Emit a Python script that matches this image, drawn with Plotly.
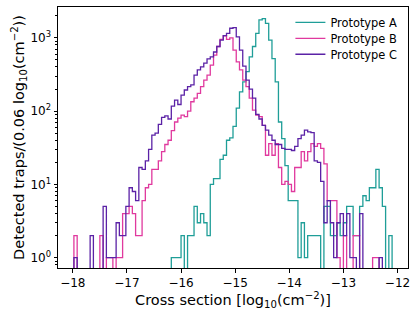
import numpy as np
import plotly.graph_objects as go

# ---- data (counts per 0.06-wide bin in log10 cross section) ----
BIN_START = -17.98
BIN_WIDTH = 0.06

proto_a = [0] * 30 + [
    1, 1, 1, 2, 0, 2, 2, 5, 3, 4,
    3, 2, 10, 12, 12, 22, 25, 40, 43, 62,
    110, 183, 250, 345, 550, 760, 1150, 1750, 1830, 1570,
    930, 520, 250, 71, 42, 18, 6, 6, 6, 1,
    3, 1, 2, 2, 2, 2, 0, 5, 5, 2,
    2, 3, 2, 3, 5, 5, 2, 2, 5, 7,
    6, 9, 9, 16, 9, 5, 0, 2]

proto_b = [
    2, 0, 0, 0, 0, 0, 0, 0, 2, 0,
    1, 1, 0, 1, 1, 4, 4, 5, 4, 2,
    2, 6, 9, 10, 16, 16, 21, 28, 35, 40,
    54, 71, 80, 88, 84, 100, 134, 150, 175, 215,
    265, 310, 425, 580, 760, 950, 1060, 950, 1000, 680,
    470, 365, 265, 215, 150, 103, 88, 84, 64, 25,
    36, 25, 36, 17, 10, 11, 10, 8, 17, 17,
    28, 21, 28, 36, 33, 36, 31, 19, 6, 6,
    6, 1, 0, 2, 0, 0, 2, 2, 0, 0,
    0, 0, 1, 1, 0, 0, 0, 0]

proto_c = [
    1, 0, 0, 0, 0, 2, 0, 0, 0, 5,
    1, 1, 1, 3, 2, 2, 5, 9, 8, 6,
    17, 16, 21, 30, 47, 50, 66, 82, 86, 78,
    117, 141, 123, 165, 194, 215, 228, 310, 365, 400,
    450, 515, 550, 640, 760, 930, 1070, 1150, 1350, 1380,
    1030, 680, 410, 265, 200, 150, 90, 78, 64, 55,
    47, 40, 35, 35, 31, 30, 30, 29, 33, 42,
    47, 55, 52, 51, 21, 20, 11, 3, 6, 3,
    1, 3, 4, 2, 4, 1, 1, 0, 4, 0,
    0, 0, 0, 0, 1, 0, 0, 0]

series_names = ["Prototype A", "Prototype B", "Prototype C"]
series_counts = [proto_a, proto_b, proto_c]
series_colors = ["#1f9e98", "#e0399e", "#5b22a6"]

x_tick_vals = [-18, -17, -16, -15, -14, -13, -12]
x_tick_text = ["\u221218", "\u221217", "\u221216", "\u221215", "\u221214", "\u221213", "\u221212"]
y_tick_vals = [1, 10, 100, 1000]
y_tick_text = ["10<sup>0</sup>", "10<sup>1</sup>", "10<sup>2</sup>", "10<sup>3</sup>"]
y_minor_vals = [m * 10 ** e for e in range(-1, 4) for m in range(2, 10)]

FLOOR = 1e-3  # empty bins drawn down past the axis bottom (clipped)

n_bins = len(proto_a)
edges = BIN_START + BIN_WIDTH * np.arange(n_bins + 1)
span = edges[-1] - edges[0]
x_range = [edges[0] - 0.05 * span, edges[-1] + 0.05 * span]


def step_xy(counts):
    c = np.asarray(counts, dtype=float)
    y = np.where(c > 0, c, FLOOR)
    xs = np.concatenate([[edges[0]], edges[:-1], [edges[-1]]])
    ys = np.concatenate([[FLOOR], y, [FLOOR]])
    return xs, ys


FONT = "DejaVu Sans"
legend_ids = ["legend", "legend2", "legend3"]
legend_rows_y = [0.941, 0.880, 0.819]

fig = go.Figure()
for name, counts, color, lg in zip(series_names, series_counts, series_colors, legend_ids):
    xs, ys = step_xy(counts)
    fig.add_trace(go.Scatter(
        x=xs, y=ys, mode="lines", name=name, legend=lg,
        line=dict(color=color, width=1.3, shape="hv"),
        hoverinfo="skip",
    ))

legend_style = dict(
    x=0.664, xanchor="left", yanchor="middle",
    bgcolor="rgba(0,0,0,0)", borderwidth=0,
    font=dict(family=FONT, size=11.4, color="black"),
    itemwidth=30,
)
fig.update_layout(
    width=415, height=317,
    margin=dict(l=58, r=7, t=7, b=49, autoexpand=False),
    paper_bgcolor="white", plot_bgcolor="white",
    font=dict(family=FONT, color="black", size=12),
    showlegend=True,
    legend=dict(y=legend_rows_y[0], **legend_style),
    legend2=dict(y=legend_rows_y[1], **legend_style),
    legend3=dict(y=legend_rows_y[2], **legend_style),
)
fig.update_xaxes(
    range=x_range, automargin=False,
    tickmode="array", tickvals=x_tick_vals, ticktext=x_tick_text,
    ticks="outside", ticklen=3.5, tickwidth=0.8, tickcolor="black",
    showline=True, mirror=True, linecolor="black", linewidth=1,
    showgrid=False, zeroline=False,
    tickfont=dict(family=FONT, size=12),
    title=dict(text="Cross section [log<sub>10</sub>(cm<sup>\u22122</sup>)]",
               font=dict(family=FONT, size=14.5), standoff=3),
)
fig.update_yaxes(
    type="log", range=[-0.1405, 3.42], automargin=False,
    tickmode="array", tickvals=y_tick_vals, ticktext=y_tick_text,
    ticks="outside", ticklen=3.5, tickwidth=0.8, tickcolor="black",
    minor=dict(tickmode="array", tickvals=y_minor_vals, ticks="outside",
               ticklen=2, tickwidth=0.6, tickcolor="black", showgrid=False),
    showline=True, mirror=True, linecolor="black", linewidth=1,
    showgrid=False, zeroline=False,
    tickfont=dict(family=FONT, size=12),
    title=dict(text="Detected traps/(0.06 log<sub>10</sub>(cm<sup>\u22122</sup>))",
               font=dict(family=FONT, size=14.5), standoff=2),
)

fig.write_html(
    "out.html",
    config={"displayModeBar": False},
    post_script="document.body.style.margin='0px';",
)
